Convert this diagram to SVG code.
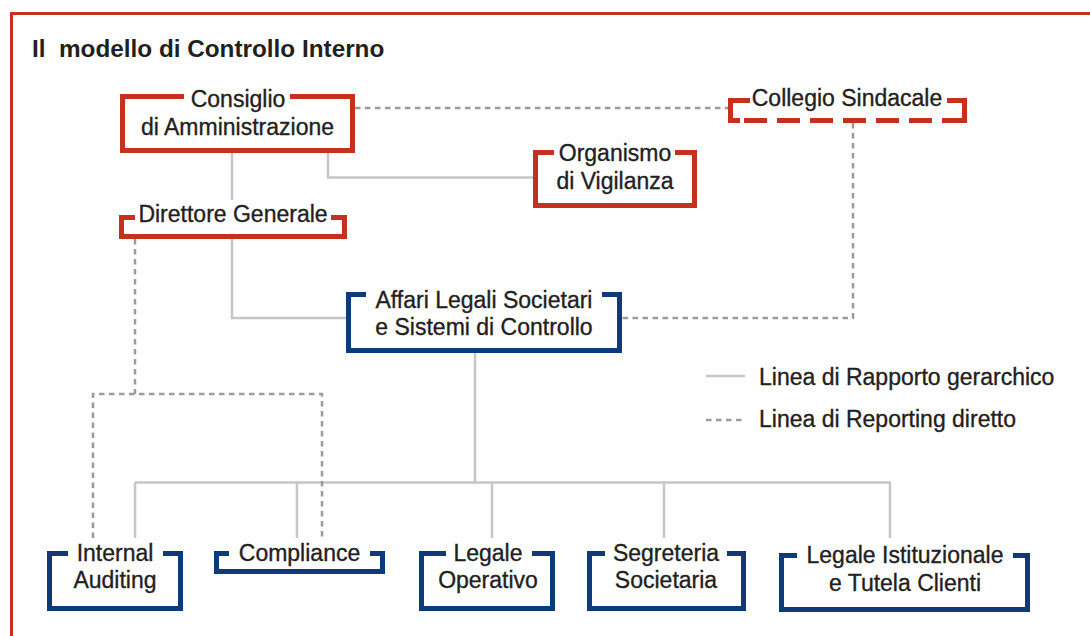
<svg xmlns="http://www.w3.org/2000/svg" width="1090" height="636" viewBox="0 0 1090 636">
  <style>
    .txt { font-family: "Liberation Sans", Arial, sans-serif; font-size: 23px; fill: #231f20; stroke: #231f20; stroke-width: 0.35; text-anchor: middle; }
    .title { font-family: "Liberation Sans", Arial, sans-serif; font-size: 24.3px; font-weight: bold; fill: #231f20; white-space: pre; }
    .legend { font-family: "Liberation Sans", Arial, sans-serif; font-size: 23px; fill: #231f20; stroke: #231f20; stroke-width: 0.35; }
    .red { fill: none; stroke: #c4311f; stroke-width: 5; stroke-linejoin: miter; stroke-linecap: butt; }
    .blue { fill: none; stroke: #0f3a7a; stroke-width: 5; stroke-linejoin: miter; stroke-linecap: butt; }
    .solid { fill: none; stroke: #c6c6ca; stroke-width: 2.5; }
    .dash { fill: none; stroke: #9b9b9f; stroke-width: 2.5; stroke-dasharray: 5.5 4.5; }
  </style>
  <rect width="1090" height="636" fill="#ffffff"/>

  <!-- outer frame (top and left edges) -->
  <path d="M11.5,636 V13.5 H1090" fill="none" stroke="#c4311f" stroke-width="3"/>

  <text class="title" x="32" y="57" xml:space="preserve">Il  modello di Controllo Interno</text>

  <!-- connectors -->
  <g id="connectors">
    <!-- hierarchical -->
    <path class="solid" d="M232,153 V200"/>
    <path class="solid" d="M232,239 V318 H346"/>
    <path class="solid" d="M328,153 V177.5 H533"/>
    <path class="solid" d="M475,353 V482.5"/>
    <path class="solid" d="M135,482.5 H891"/>
    <path class="solid" d="M135,482.5 V538 M297,482.5 V538 M492,482.5 V538 M664,482.5 V538 M890,482.5 V538"/>
    <!-- direct reporting -->
    <path class="dash" d="M355,108 H728"/>
    <path class="dash" d="M853,123 V318 H622"/>
    <path class="dash" d="M135,239 V394"/>
    <path class="dash" d="M93,538 V394 H322 V538"/>
  </g>

  <!-- nodes -->
  <g id="consiglio">
    <path class="red" d="M184,96.5 H122.5 V150.5 H352.5 V96.5 H290"/>
    <text class="txt" x="238" y="107">Consiglio</text>
    <text class="txt" x="237.5" y="135">di Amministrazione</text>
  </g>

  <g id="collegio">
    <path class="red" d="M750,100.5 H730.5 V120.5 H740"/>
    <path class="red" d="M744,120.5 H958" stroke-dasharray="23 10"/>
    <path class="red" d="M947,100.5 H964.5 V120.5 H958"/>
    <text class="txt" x="847" y="106">Collegio Sindacale</text>
  </g>

  <g id="organismo">
    <path class="red" d="M554,152.5 H535.5 V205.5 H694.5 V152.5 H675"/>
    <text class="txt" x="615" y="161">Organismo</text>
    <text class="txt" x="615" y="189">di Vigilanza</text>
  </g>

  <g id="direttore">
    <path class="red" d="M135,217.5 H121.5 V236.5 H344.5 V217.5 H331"/>
    <text class="txt" x="233" y="222">Direttore Generale</text>
  </g>

  <g id="affari">
    <path class="blue" d="M366,294.5 H348.5 V350.5 H619.5 V294.5 H602"/>
    <text class="txt" x="484" y="308">Affari Legali Societari</text>
    <text class="txt" x="484" y="335">e Sistemi di Controllo</text>
  </g>

  <g id="internal-auditing">
    <path class="blue" d="M68,553.5 H49.5 V608.5 H180.5 V553.5 H163"/>
    <text class="txt" x="115" y="561">Internal</text>
    <text class="txt" x="115" y="588">Auditing</text>
  </g>

  <g id="compliance">
    <path class="blue" d="M229,553.5 H216.5 V571.5 H382.5 V553.5 H370"/>
    <text class="txt" x="299.5" y="561">Compliance</text>
  </g>

  <g id="legale-operativo">
    <path class="blue" d="M446,553.5 H421.5 V608.5 H552.5 V553.5 H532"/>
    <text class="txt" x="488" y="561">Legale</text>
    <text class="txt" x="488" y="588">Operativo</text>
  </g>

  <g id="segreteria">
    <path class="blue" d="M605,553.5 H589.5 V608.5 H743.5 V553.5 H727"/>
    <text class="txt" x="666" y="561">Segreteria</text>
    <text class="txt" x="666" y="588">Societaria</text>
  </g>

  <g id="legale-istituzionale">
    <path class="blue" d="M797,555.5 H781.5 V609.5 H1027.5 V555.5 H1013"/>
    <text class="txt" x="905" y="563">Legale Istituzionale</text>
    <text class="txt" x="905" y="591">e Tutela Clienti</text>
  </g>

  <!-- legend -->
  <g id="legend">
    <path class="solid" d="M706,376 H745"/>
    <text class="legend" x="759" y="385">Linea di Rapporto gerarchico</text>
    <path class="dash" d="M706,420 H745"/>
    <text class="legend" x="759" y="427">Linea di Reporting diretto</text>
  </g>
</svg>
